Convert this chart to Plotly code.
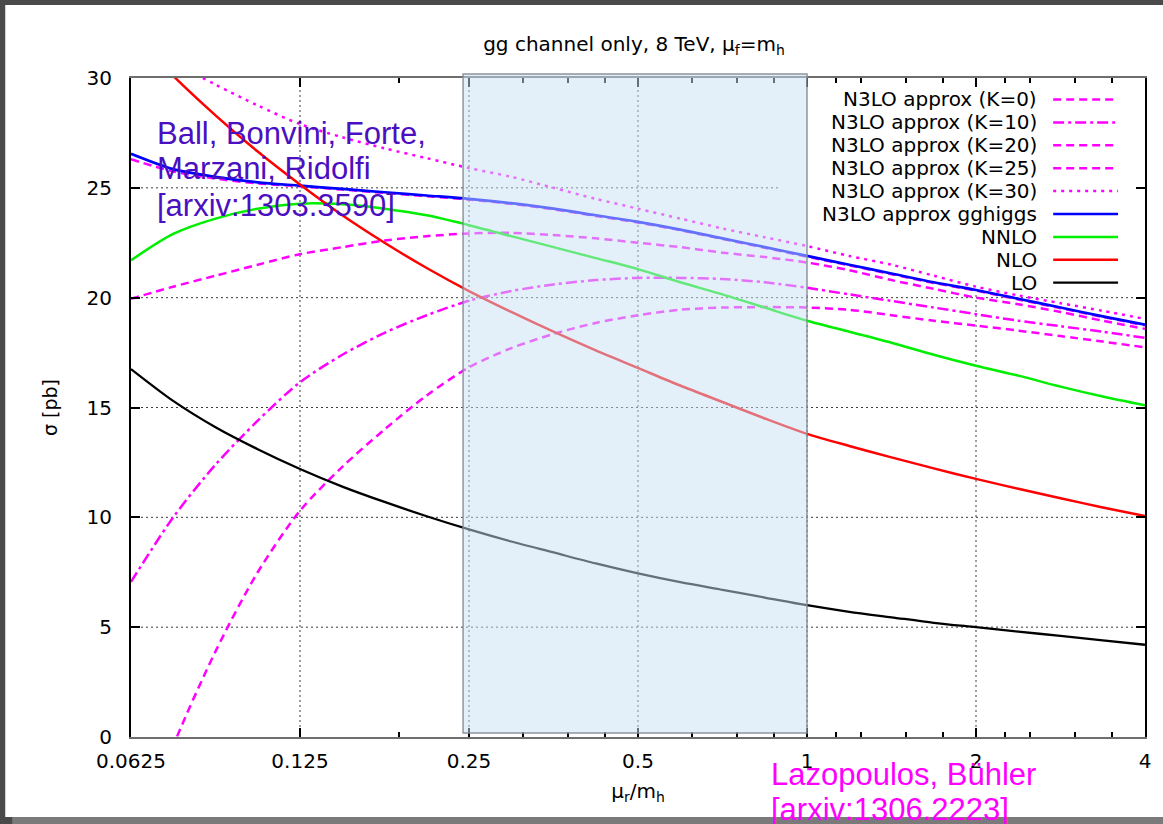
import plotly.graph_objects as go

# ---------------- data ----------------
MU = [0.0625, 0.0743, 0.0884, 0.1051, 0.125, 0.1487, 0.1768, 0.2102, 0.25,
      0.2973, 0.3536, 0.4204, 0.5, 0.5946, 0.7071, 0.8409, 1.0, 1.1892,
      1.4142, 1.6818, 2.0, 2.3784, 2.8284, 3.3636, 4.0]

K0 = [-5.5, -0.4, 3.9, 7.5, 10.3, 12.3, 14.0, 15.55, 16.83, 17.7, 18.35, 18.85,
      19.2, 19.45, 19.55, 19.57, 19.55, 19.45, 19.2, 18.95, 18.73, 18.5, 18.25,
      18.0, 17.74]
K10 = [7.06, 10.0, 12.4, 14.4, 16.15, 17.4, 18.4, 19.2, 19.86, 20.3, 20.6, 20.8,
       20.9, 20.9, 20.85, 20.7, 20.45, 20.15, 19.85, 19.55, 19.25, 18.95, 18.7,
       18.45, 18.17]
K20 = [19.95, 20.5, 21.0, 21.5, 21.98, 22.3, 22.6, 22.8, 22.92, 22.95, 22.85,
       22.7, 22.5, 22.3, 22.05, 21.85, 21.6, 21.25, 20.8, 20.4, 20.0, 19.7,
       19.35, 18.95, 18.58]
K25 = [26.3, 25.75, 25.42, 25.2, 25.07, 24.92, 24.77, 24.62, 24.47, 24.27,
       24.02, 23.72, 23.42, 23.07, 22.67, 22.27, 21.87, 21.47, 21.07, 20.67,
       20.32, 19.92, 19.52, 19.12, 18.74]
K30 = [31.6, 30.7, 29.7, 28.75, 27.9, 27.3, 26.8, 26.35, 25.9, 25.5, 25.0, 24.5,
       24.05, 23.6, 23.15, 22.75, 22.35, 21.9, 21.5, 21.0, 20.5, 20.1, 19.75,
       19.4, 19.03]
GGHIGGS = [26.55, 25.85, 25.5, 25.25, 25.1, 24.95, 24.8, 24.65, 24.5, 24.3,
           24.05, 23.75, 23.45, 23.1, 22.7, 22.3, 21.9, 21.5, 21.1, 20.7, 20.35,
           19.95, 19.55, 19.15, 18.77]
NNLO = [21.7, 22.9, 23.6, 24.05, 24.28, 24.25, 24.05, 23.75, 23.3, 22.8, 22.3,
        21.8, 21.3, 20.7, 20.15, 19.55, 18.95, 18.45, 17.95, 17.4, 16.9, 16.45,
        15.95, 15.5, 15.1]
NLO = [32.1, 30.1, 28.3, 26.65, 25.15, 23.75, 22.5, 21.35, 20.3, 19.35, 18.45,
       17.6, 16.8, 16.0, 15.25, 14.5, 13.8, 13.25, 12.73, 12.23, 11.75, 11.3,
       10.87, 10.45, 10.06]
LO = [16.75, 15.3, 14.1, 13.1, 12.2, 11.4, 10.7, 10.05, 9.45, 8.9, 8.4, 7.9,
      7.45, 7.05, 6.7, 6.35, 6.0, 5.7, 5.45, 5.2, 5.0, 4.8, 4.6, 4.4, 4.2]

SERIES_NAMES = ["N3LO approx (K=0)", "N3LO approx (K=10)", "N3LO approx (K=20)",
                "N3LO approx (K=25)", "N3LO approx (K=30)", "N3LO approx gghiggs",
                "NNLO", "NLO", "LO"]
SERIES_VALUES = [K0, K10, K20, K25, K30, GGHIGGS, NNLO, NLO, LO]

X_TICKS = [0.0625, 0.125, 0.25, 0.5, 1, 2, 4]
X_TICK_TEXT = ["0.0625", "0.125", "0.25", "0.5", "1", "2", "4"]
X_MINOR = [0.1875, 0.3125, 0.375, 0.4375, 0.625, 0.75, 0.875, 1.125, 1.25,
           1.5, 1.75, 2.25, 2.5, 3, 3.5]
Y_TICKS = [0, 5, 10, 15, 20, 25, 30]
X_GRID = [0.125, 0.25, 0.5, 1, 2]
Y_GRID = [5, 10, 15, 20, 25]
SHADED_BAND = [0.244, 1.0]   # mu_r/m_h band highlighted

# ---------------- styles ----------------
MAG = "#ff00ff"
STYLES = [
    dict(color=MAG, width=2.5, dash="8px,5px"),
    dict(color=MAG, width=2.5, dash="11px,4px,3px,4px"),
    dict(color=MAG, width=2.5, dash="8px,5px"),
    dict(color=MAG, width=2.5, dash="8px,5px"),
    dict(color=MAG, width=2.5, dash="3px,5px"),
    dict(color="#0000ff", width=2.7),
    dict(color="#00ee00", width=2.5),
    dict(color="#ff0000", width=2.5),
    dict(color="#000000", width=2.3),
]

W_PX, H_PX = 1163, 824
L, R, T, B = 131, 1147, 78, 737


def pxx(x):
    return (x - L) / (R - L)


def pxy(y):
    return (B - y) / (B - T)


GNU = "DejaVu Sans"
GRID_LINE = dict(color="#3a3a3a", width=1, dash="2px,3px")
fig = go.Figure()

for name, vals, st in zip(SERIES_NAMES, SERIES_VALUES, STYLES):
    fig.add_trace(go.Scatter(x=MU, y=vals, mode="lines", name=name,
                             line=dict(shape="spline", smoothing=0.8, **st),
                             showlegend=False, hoverinfo="x+y+name"))

shapes = []
# page frame: white sheet on dark screenshot border
shapes.append(dict(type="rect", xref="paper", yref="paper", layer="below",
                   x0=pxx(5), x1=pxx(W_PX + 5), y0=pxy(817), y1=pxy(5),
                   fillcolor="white", line=dict(width=0)))
# gridlines
for gx in X_GRID:
    shapes.append(dict(type="line", xref="x", yref="paper", layer="below",
                       x0=gx, x1=gx, y0=0, y1=1, line=GRID_LINE))
for gy in Y_GRID:
    shapes.append(dict(type="line", xref="paper", yref="y", layer="below",
                       x0=0, x1=1, y0=gy, y1=gy, line=GRID_LINE))
# opaque key area blanks the grid
shapes.append(dict(type="rect", xref="paper", yref="paper", layer="below",
                   x0=pxx(780), x1=0.998, y0=pxy(294), y1=0.998,
                   fillcolor="white", line=dict(width=0)))
# shaded mu band overlay
shapes.append(dict(type="rect", xref="x", yref="paper", layer="above",
                   x0=SHADED_BAND[0], x1=SHADED_BAND[1], y0=pxy(733), y1=pxy(74),
                   fillcolor="rgba(200,225,245,0.5)",
                   line=dict(color="rgba(130,140,150,0.9)", width=1.5)))
# bottom strip of screenshot border
shapes.append(dict(type="rect", xref="paper", yref="paper", layer="above",
                   x0=pxx(12), x1=pxx(W_PX + 5), y0=pxy(H_PX + 5), y1=pxy(817),
                   fillcolor="#7a7a7a", line=dict(width=0)))

annotations = []
# key (gnuplot style: text right aligned, sample to the right)
for i, (name, st) in enumerate(zip(SERIES_NAMES, STYLES)):
    yrow = 99.5 + 22.9 * i
    annotations.append(dict(xref="paper", yref="paper", x=pxx(1041), y=pxy(yrow),
                            xanchor="right", yanchor="middle", showarrow=False,
                            text=name, font=dict(family=GNU, size=20, color="black")))
    shapes.append(dict(type="line", xref="paper", yref="paper", layer="above",
                       x0=pxx(1055), x1=pxx(1120), y0=pxy(yrow), y1=pxy(yrow),
                       line=st))

BALL = ["Ball, Bonvini, Forte,", "Marzani, Ridolfi", "[arxiv:1303.3590]"]
for i, line in enumerate(BALL):
    annotations.append(dict(xref="paper", yref="paper", x=pxx(155), y=pxy(133 + 36 * i),
                            xanchor="left", yanchor="middle", showarrow=False,
                            text=line,
                            font=dict(family="Liberation Sans", size=31, color="#4a0fc0")))
LAZ = ["Lazopoulos, Bühler", "[arxiv:1306.2223]"]
for i, line in enumerate(LAZ):
    annotations.append(dict(xref="paper", yref="paper", x=pxx(770), y=pxy(774 + 35 * i),
                            xanchor="left", yanchor="middle", showarrow=False,
                            text=line,
                            font=dict(family="Liberation Sans", size=31, color=MAG)))

fig.update_layout(
    width=W_PX, height=H_PX,
    margin=dict(l=L, r=W_PX - R, t=T, b=H_PX - B, pad=0),
    paper_bgcolor="#4a4a4a", plot_bgcolor="white",
    title=dict(text="gg channel only, 8 TeV, μ<sub>f</sub>=m<sub>h</sub>",
               x=634 / W_PX, xanchor="center", y=1 - 44 / H_PX, yanchor="middle",
               font=dict(family=GNU, size=20, color="black")),
    xaxis=dict(type="log", range=[-1.2041, 0.60206], tickmode="array",
               tickvals=X_TICKS, ticktext=X_TICK_TEXT, showgrid=False,
               zeroline=False, ticks="inside", ticklen=9, tickwidth=1.5,
               tickcolor="black", mirror="allticks", showline=True,
               linecolor="#6e6e6e", linewidth=2, ticklabelstandoff=5,
               tickfont=dict(family=GNU, size=20, color="black"),
               minor=dict(tickmode="array", tickvals=X_MINOR, ticks="inside",
                          ticklen=5, tickwidth=1.5, tickcolor="black",
                          showgrid=False),
               title=dict(text="μ<sub>r</sub>/m<sub>h</sub>", standoff=12,
                          font=dict(family=GNU, size=20, color="black"))),
    yaxis=dict(range=[0, 30], tickmode="array", tickvals=Y_TICKS, showgrid=False,
               zeroline=False, ticks="inside", ticklen=9, tickwidth=1.5,
               tickcolor="black", mirror="allticks", showline=True,
               linecolor="black", linewidth=2, ticklabelstandoff=13,
               tickfont=dict(family=GNU, size=20, color="black"),
               title=dict(text="σ [pb]", standoff=24,
                          font=dict(family=GNU, size=19, color="black"))),
    shapes=shapes, annotations=annotations,
    showlegend=False,
)

fig.write_html("out.html", config={"displayModeBar": False},
               post_script="document.body.style.margin='0';document.body.style.overflow='hidden';")
